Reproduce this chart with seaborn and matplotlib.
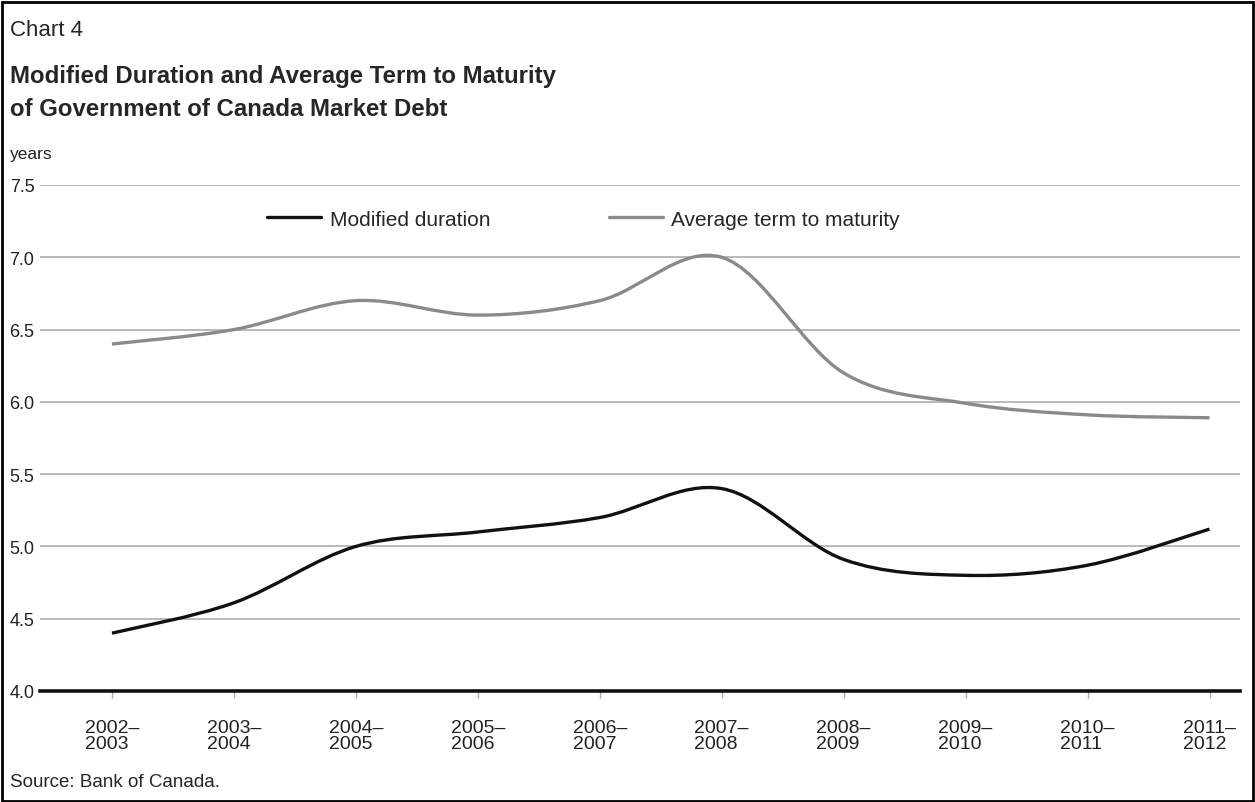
import numpy as np
import pandas as pd
import seaborn as sns
import matplotlib
matplotlib.use('Agg')
import matplotlib.pyplot as plt
from matplotlib.path import Path
from matplotlib.patches import PathPatch, Rectangle
from matplotlib.lines import Line2D

# values
years = ['2002–\n2003', '2003–\n2004', '2004–\n2005', '2005–\n2006', '2006–\n2007',
         '2007–\n2008', '2008–\n2009', '2009–\n2010', '2010–\n2011', '2011–\n2012']
modified_duration = [4.40, 4.61, 5.00, 5.10, 5.20, 5.40, 4.91, 4.80, 4.87, 5.12]
avg_term = [6.40, 6.50, 6.70, 6.60, 6.70, 7.00, 6.20, 5.99, 5.91, 5.89]
series_names = ['Modified duration', 'Average term to maturity']
colors = ['#111111', '#8a8a8a']

sns.set_style('white')
plt.rcParams['font.family'] = ['Liberation Sans', 'DejaVu Sans']

df = pd.DataFrame({
    'x': list(range(len(years))) * 2,
    'value': modified_duration + avg_term,
    'series': [series_names[0]] * len(years) + [series_names[1]] * len(years),
})

fig = plt.figure(figsize=(12.55, 8.03), dpi=100)
ax = fig.add_axes([40 / 1255, 1 - 692 / 803, 1200 / 1255, (692 - 186) / 803])

# invisible seaborn lines set up the scales, smooth curves drawn on top
sns.lineplot(data=df, x='x', y='value', hue='series', palette=colors,
             linewidth=0, legend=False, ax=ax)


def smooth_path(xs, ys):
    # catmull-rom through the points, as cubic bezier segments
    pts = np.column_stack([xs, ys]).astype(float)
    ext = np.vstack([pts[0], pts, pts[-1]])
    verts = [pts[0]]
    codes = [Path.MOVETO]
    for i in range(1, len(ext) - 2):
        p0, p1, p2, p3 = ext[i - 1], ext[i], ext[i + 1], ext[i + 2]
        verts += [p1 + (p2 - p0) / 6, p2 - (p3 - p1) / 6, p2]
        codes += [Path.CURVE4] * 3
    return Path(verts, codes)


for name, col in zip(series_names, colors):
    sub = df[df.series == name]
    ax.add_patch(PathPatch(smooth_path(sub.x, sub.value), fill=False,
                           edgecolor=col, linewidth=2.4, capstyle='butt', zorder=3))

ax.set_xlim(-0.59, 9.25)
ax.set_ylim(4.0, 7.5)
ax.set_yticks(np.arange(4.0, 7.51, 0.5))
ax.set_yticklabels([f'{v:.1f}' for v in np.arange(4.0, 7.51, 0.5)], fontsize=13, color='#222222')
ax.set_xticks(range(len(years)))
ax.set_xticklabels(years, fontsize=14, color='#222222', linespacing=0.92,
                   multialignment='left')
ax.tick_params(axis='y', length=0, pad=4)
ax.tick_params(axis='x', bottom=True, length=5, width=1, color='#aaaaaa', pad=15)
ax.set_xlabel('')
ax.set_ylabel('')
for v in np.arange(4.5, 7.51, 0.5):
    ax.axhline(v, color='#b4b4b4', linewidth=1.3, zorder=1)
for s in ['top', 'right', 'left']:
    ax.spines[s].set_visible(False)
ax.spines['bottom'].set_color('#111111')
ax.spines['bottom'].set_linewidth(2.6)

handles = [Line2D([], [], color=c, linewidth=2.4) for c in colors]
fig.legend(handles, series_names, loc='center left', bbox_to_anchor=(267 / 1255, 1 - 220 / 803),
           ncol=2, frameon=False, fontsize=15, handlelength=2.6, handletextpad=0.4,
           columnspacing=5.7, borderaxespad=0, borderpad=0)

fig.text(10 / 1255, 1 - 30 / 803, 'Chart 4', fontsize=16, va='center', ha='left')
fig.text(10 / 1255, 1 - 76 / 803, 'Modified Duration and Average Term to Maturity',
         fontsize=17.3, fontweight='bold', va='center', ha='left')
fig.text(10 / 1255, 1 - 109 / 803, 'of Government of Canada Market Debt',
         fontsize=17.3, fontweight='bold', va='center', ha='left')
fig.text(10 / 1255, 1 - 154 / 803, 'years', fontsize=12.5, va='center', ha='left', color='#222222')
fig.text(10 / 1255, 1 - 783 / 803, 'Source: Bank of Canada.', fontsize=13.5, va='center', ha='left')

fig.patches.append(Rectangle((1.5 / 1255, 1.5 / 803), 1 - 4 / 1255, 1 - 4 / 803,
                             transform=fig.transFigure, fill=False, edgecolor='black',
                             linewidth=2))

fig.savefig('out.png', dpi=100)
